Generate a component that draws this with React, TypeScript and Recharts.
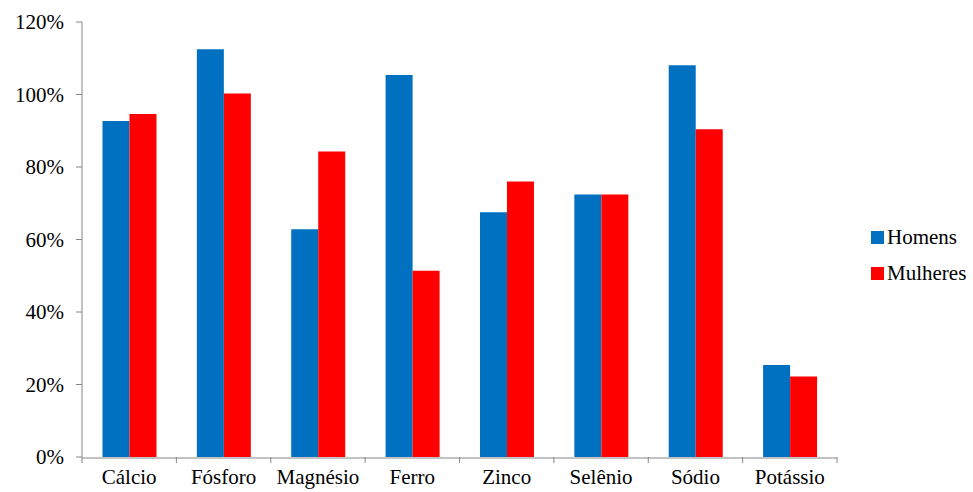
import React from 'react';
import { BarChart, Bar, XAxis, YAxis } from 'recharts';

const minerals = ['Cálcio', 'Fósforo', 'Magnésio', 'Ferro', 'Zinco', 'Selênio', 'Sódio', 'Potássio'];
const homens = [92.7, 112.5, 62.8, 105.4, 67.5, 72.4, 108.1, 25.4];
const mulheres = [94.6, 100.3, 84.3, 51.4, 76.0, 72.4, 90.4, 22.2];
const yTicks = [0, 20, 40, 60, 80, 100, 120];
const boundaryTicks = [0, 1, 2, 3, 4, 5, 6, 7, 8];
const seriesNames = ['Homens', 'Mulheres'];
const seriesColors = ['#0070C0', '#FF0000'];

const data = minerals.map((m, i) => ({ name: m, idx: i + 0.5, Homens: homens[i], Mulheres: mulheres[i] }));

const FONT = '"Liberation Serif", Tinos, "DejaVu Serif", serif';
const AXIS = '#868686';

export default function App() {
  return (
    <div style={{ position: 'absolute', left: 0, top: 0, width: 973, height: 492, background: '#fff' }}>
      <BarChart
        width={973}
        height={492}
        data={data}
        margin={{ top: 22, right: 136, bottom: 0, left: 0 }}
        barCategoryGap="21.7%"
        barGap={0}
      >
        {/* tick marks between categories (id 0 sits next to the plot) */}
        <XAxis
          xAxisId={0}
          dataKey="idx"
          type="number"
          domain={[0, 8]}
          allowDataOverflow
          ticks={boundaryTicks}
          interval={0}
          height={1}
          axisLine={false}
          tick={() => <g />}
          tickSize={6}
          tickLine={{ stroke: AXIS }}
        />
        <XAxis
          xAxisId="cat"
          dataKey="name"
          height={34}
          axisLine={{ stroke: AXIS }}
          tickLine={false}
          tickSize={0}
          tickMargin={11}
          interval={0}
          tick={{ fill: '#000', fontFamily: FONT, fontSize: 21 }}
        />
        <YAxis
          width={82}
          domain={[0, 120]}
          ticks={yTicks}
          tickFormatter={(v: number) => `${v}%`}
          axisLine={{ stroke: AXIS }}
          tickLine={{ stroke: AXIS }}
          tickSize={6}
          tickMargin={12}
          tick={{ fill: '#000', fontFamily: FONT, fontSize: 21 }}
        />
        {seriesNames.map((s, i) => (
          <Bar key={s} xAxisId="cat" dataKey={s} fill={seriesColors[i]} isAnimationActive={false} />
        ))}
      </BarChart>
      {/* legend */}
      <div style={{ position: 'absolute', left: 871, top: 219, fontFamily: FONT, fontSize: 21, color: '#000' }}>
        {seriesNames.map((s, i) => (
          <div key={s} style={{ display: 'flex', alignItems: 'center', height: 36 }}>
            <span style={{ width: 13, height: 13, background: seriesColors[i], marginRight: 3, display: 'inline-block' }} />
            <span>{s}</span>
          </div>
        ))}
      </div>
    </div>
  );
}
